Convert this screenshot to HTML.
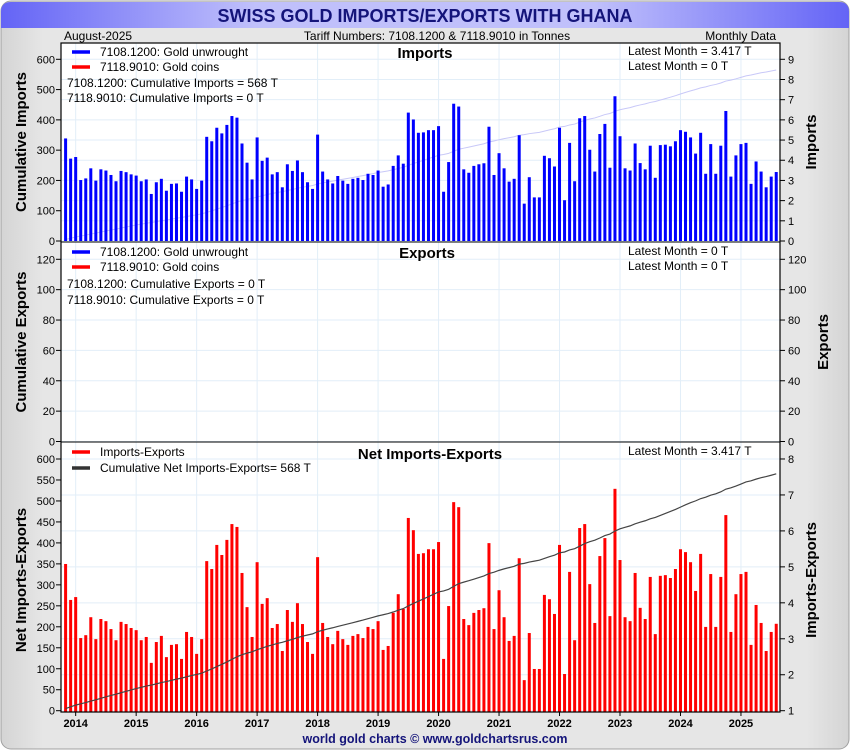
<!DOCTYPE html>
<html><head><meta charset="utf-8">
<style>
html,body{margin:0;padding:0;background:#fff;}
body{width:850px;height:750px;overflow:hidden;font-family:"Liberation Sans",sans-serif;}
svg text{font-family:"Liberation Sans",sans-serif;}
</style></head>
<body>
<svg id="chart" width="850" height="750" viewBox="0 0 850 750" xmlns="http://www.w3.org/2000/svg">
<defs>
<linearGradient id="tg" x1="0" x2="1" y1="0" y2="0">
<stop offset="0" stop-color="#6464f6"/><stop offset="0.3" stop-color="#c0c0fb"/><stop offset="0.7" stop-color="#c0c0fb"/><stop offset="1" stop-color="#6464f6"/>
</linearGradient>
<linearGradient id="bg" x1="0" x2="1" y1="0" y2="0">
<stop offset="0" stop-color="#d4d4d4"/><stop offset="0.05" stop-color="#e6e6e6"/><stop offset="0.95" stop-color="#e6e6e6"/><stop offset="1" stop-color="#d4d4d4"/>
</linearGradient>
</defs>
<rect x="1" y="1" width="848" height="748" rx="10" fill="url(#bg)" stroke="#a0a0a0"/>
<path d="M1 28 V12 Q1 2 11 2 H839 Q849 2 849 12 V28 Z" fill="url(#tg)"/>
<text x="425" y="22" text-anchor="middle" font-size="18" font-weight="bold" fill="#14147a">SWISS GOLD IMPORTS/EXPORTS WITH GHANA</text>
<text x="64" y="40" font-size="12" fill="#000">August-2025</text>
<text x="437" y="40" text-anchor="middle" font-size="12" fill="#000">Tariff Numbers: 7108.1200 &amp; 7118.9010 in Tonnes</text>
<text x="776" y="40" text-anchor="end" font-size="12" fill="#000">Monthly Data</text>
<rect x="61" y="43" width="719" height="669" fill="#fff"/>
<g id="grid"></g>
<g id="marks"></g>
<g id="axes"></g>
<rect x="61" y="43" width="719" height="669" fill="none" stroke="#000" stroke-width="1.2"/>
<line x1="61" y1="242" x2="780" y2="242" stroke="#000"/>
<line x1="61" y1="442" x2="780" y2="442" stroke="#000"/>

<line x1="72" y1="52" x2="90" y2="52" stroke="#0000ff" stroke-width="3.5"/>
<text x="100" y="56" font-size="12">7108.1200: Gold unwrought</text>
<line x1="72" y1="67" x2="90" y2="67" stroke="#ff0000" stroke-width="3.5"/>
<text x="100" y="71" font-size="12">7118.9010: Gold coins</text>
<text x="67" y="87" font-size="12">7108.1200: Cumulative Imports = 568 T</text>
<text x="67" y="102" font-size="12">7118.9010: Cumulative Imports = 0 T</text>
<text x="425" y="58" text-anchor="middle" font-size="15" font-weight="bold">Imports</text>
<text x="628" y="55" font-size="12">Latest Month = 3.417 T</text>
<text x="628" y="70" font-size="12">Latest Month = 0 T</text>
<line x1="72" y1="252" x2="90" y2="252" stroke="#0000ff" stroke-width="3.5"/>
<text x="100" y="256" font-size="12">7108.1200: Gold unwrought</text>
<line x1="72" y1="267" x2="90" y2="267" stroke="#ff0000" stroke-width="3.5"/>
<text x="100" y="271" font-size="12">7118.9010: Gold coins</text>
<text x="67" y="288" font-size="12">7108.1200: Cumulative Exports = 0 T</text>
<text x="67" y="304" font-size="12">7118.9010: Cumulative Exports = 0 T</text>
<text x="427" y="258" text-anchor="middle" font-size="15" font-weight="bold">Exports</text>
<text x="628" y="255" font-size="12">Latest Month = 0 T</text>
<text x="628" y="270" font-size="12">Latest Month = 0 T</text>
<line x1="72" y1="452" x2="90" y2="452" stroke="#ff0000" stroke-width="3.5"/>
<text x="100" y="456" font-size="12">Imports-Exports</text>
<line x1="72" y1="468" x2="90" y2="468" stroke="#333" stroke-width="3.5"/>
<text x="100" y="472" font-size="12">Cumulative Net Imports-Exports= 568 T</text>
<text x="430" y="459" text-anchor="middle" font-size="15" font-weight="bold">Net Imports-Exports</text>
<text x="628" y="455" font-size="12">Latest Month = 3.417 T</text>

<text transform="translate(26,142) rotate(-90)" text-anchor="middle" font-size="15" font-weight="bold">Cumulative Imports</text>
<text transform="translate(816,142) rotate(-90)" text-anchor="middle" font-size="15" font-weight="bold">Imports</text>
<text transform="translate(26,342) rotate(-90)" text-anchor="middle" font-size="15" font-weight="bold">Cumulative Exports</text>
<text transform="translate(828,342) rotate(-90)" text-anchor="middle" font-size="15" font-weight="bold">Exports</text>
<text transform="translate(26,580) rotate(-90)" text-anchor="middle" font-size="15" font-weight="bold">Net Imports-Exports</text>
<text transform="translate(816,580) rotate(-90)" text-anchor="middle" font-size="15" font-weight="bold">Imports-Exports</text>
<text x="435" y="743" text-anchor="middle" font-size="12.5" font-weight="bold" fill="#14147a">world gold charts © www.goldchartsrus.com</text>
</svg>
<script>
const importValues = [
5.08,4.08,4.16,3.02,3.10,3.60,2.99,3.55,3.49,3.27,2.96,3.47,3.41,3.30,3.24,2.96,3.05,2.33,2.91,3.08,
2.49,2.83,2.85,2.44,3.19,3.05,2.58,2.99,5.16,4.94,5.61,5.33,5.75,6.19,6.11,4.83,3.88,3.05,5.13,3.97,
4.13,3.30,3.41,2.66,3.80,3.47,3.99,3.41,2.91,2.58,5.27,3.44,3.05,2.85,3.22,2.99,2.83,3.08,3.13,3.02,
3.33,3.27,3.49,2.69,2.80,3.72,4.24,3.83,6.36,6.02,5.36,5.38,5.49,5.49,5.69,2.44,3.91,6.80,6.66,3.55,
3.38,3.72,3.80,3.85,5.66,3.27,4.35,3.60,2.94,3.08,5.24,1.85,3.16,2.16,2.16,4.22,4.10,3.69,5.61,2.02,
4.86,2.96,6.08,6.19,4.52,3.44,5.30,5.80,3.63,7.17,5.19,3.60,3.49,4.83,3.86,3.55,4.72,3.13,4.75,4.77,
4.69,4.94,5.49,5.41,5.13,4.33,5.36,3.33,4.80,3.33,4.72,6.44,3.19,4.24,4.80,4.86,2.83,3.94,3.44,2.66,
3.19,3.417];
const exportValues = importValues.map(() => 0);
const yearLabels = ["2014","2015","2016","2017","2018","2019","2020","2021","2022","2023","2024","2025"];
const firstJanIndex = 2;
const impLeftTicks = [0,100,200,300,400,500,600];
const impRightTicks = [0,1,2,3,4,5,6,7,8,9];
const expTicks = [0,20,40,60,80,100,120];
const netLeftTicks = [0,50,100,150,200,250,300,350,400,450,500,550,600];
const netRightTicks = [1,2,3,4,5,6,7,8];

const NS = "http://www.w3.org/2000/svg";
const xOf = i => 65.6 + i * 5.04;
const yImpR = v => 241 - v * (181.7 / 9);
const yImpL = c => 241 - c * (181.7 / 600);
const yExp = v => 441.5 - v * (182.2 / 120);
const yNetR = v => 710.7 - (v - 1) * 35.96;
const yNetL = c => 710.7 - c * (251.7 / 600);

function mk(tag, attrs, parent) {
  const e = document.createElementNS(NS, tag);
  for (const k in attrs) e.setAttribute(k, attrs[k]);
  parent.appendChild(e);
  return e;
}
const grid = document.getElementById('grid');
const marks = document.getElementById('marks');
const axes = document.getElementById('axes');
const gc = "#e2eef8";

yearLabels.forEach((yl, j) => {
  const x = xOf(firstJanIndex + j * 12);
  const g = mk('line', {x1:x, y1:43, x2:x, y2:712, stroke:gc}, grid);
  
  
  const t = mk('line', {x1:x, y1:712, x2:x, y2:716, stroke:'#000'}, axes);
  
  
  const l = mk('text', {x:x, y:727, 'text-anchor':'middle', 'font-size':11, 'font-weight':'bold'}, axes);
  l.textContent = yl;
  
  
});

function hgrid(y) {
  const g = mk('line', {x1:61, y1:y, x2:780, y2:y, stroke:gc}, grid);
  
  
}
function tick(side, y, label) {
  const x = side === 'L' ? 61 : 780;
  const t = mk('line', {x1:side==='L'?x-5:x, y1:y, x2:side==='L'?x:x+5, y2:y, stroke:'#000'}, axes);
  
  
  const l = mk('text', {x: side==='L'?55:788, y:y+4, 'text-anchor': side==='L'?'end':'start', 'font-size':11}, axes);
  l.textContent = label;
  
  
}
impRightTicks.forEach(v => { hgrid(yImpR(v)); tick('R', yImpR(v), v); });
impLeftTicks.forEach(v => tick('L', yImpL(v), v));
expTicks.forEach(v => { hgrid(yExp(v)); tick('L', yExp(v), v); tick('R', yExp(v), v); });
netRightTicks.forEach(v => { hgrid(yNetR(v)); tick('R', yNetR(v), v); });
netLeftTicks.forEach(v => tick('L', yNetL(v), v));

let cum = 0;
const cumVals = importValues.map((v, i) => (cum += v - exportValues[i]));
const impCumPts = cumVals.map((c, i) => xOf(i) + ',' + yImpL(c)).join(' ');
const impCum = mk('polyline', {points: impCumPts, fill:'none', stroke:'#c8c8f8', 'stroke-width':1}, marks);



importValues.forEach((v, i) => {
  const y = yImpR(v);
  const b = mk('rect', {x: xOf(i) - 1.5, y: y, width: 3, height: yImpR(0) - y, fill:'#0000ff'}, marks);
  
  
});
exportValues.forEach((v, i) => {
  if (v <= 0) return;
  const y = yExp(v);
  const b = mk('rect', {x: xOf(i) - 1.5, y: y, width: 3, height: yExp(0) - y, fill:'#0000ff'}, marks);
  
  
});
importValues.forEach((v, i) => {
  const n = v - exportValues[i];
  const y = yNetR(n);
  const b = mk('rect', {x: xOf(i) - 1.5, y: y, width: 3, height: 712 - y, fill:'#ff0000'}, marks);
  
  
});
const netCumPts = cumVals.map((c, i) => xOf(i) + ',' + yNetL(c)).join(' ');
const netCum = mk('polyline', {points: netCumPts, fill:'none', stroke:'#444', 'stroke-width':1.2}, marks);


</script>
</body></html>
